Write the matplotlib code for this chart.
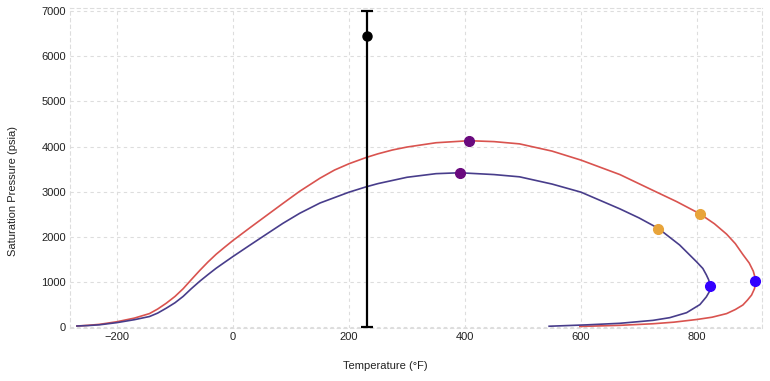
import matplotlib
matplotlib.use("Agg")
import matplotlib.pyplot as plt

plt.rcParams['font.family'] = ['Liberation Sans', 'DejaVu Sans']

# Envelope 1 (red), traced left -> top -> right tip -> back along the bottom
red_t = [-269, -250, -230, -200, -170, -144, -130, -115, -100, -86, -72, -57, -43, -29, -14,
         0, 29, 58, 86, 115, 150, 175, 200, 230, 250, 275, 300, 350, 407, 450, 494, 550,
         600, 667, 724, 765, 805, 830, 851, 866, 879, 890, 897, 900, 901, 899, 894,
         887, 879, 866, 851, 826, 800, 760, 724, 667, 598]
red_p = [25, 40, 62, 120, 200, 300, 400, 530, 680, 850, 1050, 1260, 1445, 1615, 1775,
         1920, 2200, 2475, 2740, 3010, 3300, 3480, 3620, 3760, 3840, 3925, 3990, 4085, 4130, 4110, 4060, 3900,
         3700, 3380, 3030, 2780, 2510, 2290, 2060, 1850, 1610, 1420, 1240, 1100, 980, 850, 710,
         600, 490, 390, 300, 220, 170, 110, 75, 40, 15]

# Envelope 2 (dark blue)
blue_t = [-269, -250, -230, -200, -170, -144, -130, -115, -100, -86, -72, -57, -43, -29, -14,
          0, 29, 58, 86, 115, 150, 200, 230, 250, 300, 350, 391, 450, 494, 550,
          600, 667, 700, 733, 770, 799, 810, 816, 820, 823, 821, 816, 805, 782, 753,
          724, 667, 609, 545]
blue_p = [25, 35, 52, 100, 165, 235, 310, 420, 540, 680, 850, 1020, 1165, 1305, 1440,
          1565, 1815, 2062, 2299, 2522, 2750, 2990, 3110, 3180, 3320, 3400, 3420, 3380, 3330, 3170,
          2990, 2620, 2420, 2190, 1820, 1450, 1300, 1160, 1050, 900, 780, 670, 500, 320, 210,
          150, 85, 50, 20]

# marked points
crit_t = [407, 391]
crit_p = [4130, 3420]
mid_t = [805, 733]
mid_p = [2510, 2180]
tip_t = [900, 822]
tip_p = [1030, 920]

# measured point with range
meas_t = [231]
meas_p = [6460]
meas_lo = [0]
meas_hi = [7000]

x_ticks = [-200, 0, 200, 400, 600, 800]
y_ticks = [0, 1000, 2000, 3000, 4000, 5000, 6000, 7000]

fig = plt.figure(figsize=(7.7, 3.81), dpi=100)
ax = fig.add_axes([0.0909, 0.139, 0.8987, 0.840])

ax.plot(red_t, red_p, color='#d9534f', lw=1.2, zorder=3)
ax.plot(blue_t, blue_p, color='#483d8b', lw=1.2, zorder=3)

ax.plot(crit_t, crit_p, 'o', color='#6a0a7e', ms=7, zorder=4)
ax.plot(mid_t, mid_p, 'o', color='#e8a43a', ms=7, zorder=4)
ax.plot(tip_t, tip_p, 'o', color='#3300ff', ms=7, zorder=4)

yerr = [[meas_p[0] - meas_lo[0]], [meas_hi[0] - meas_p[0]]]
ax.errorbar(meas_t, meas_p, yerr=yerr, fmt='o', color='black', ms=6.5,
            elinewidth=1.6, capsize=4.5, capthick=1.6, zorder=5)

ax.set_xlim(-281, 912)
ax.set_ylim(-20, 7070)
ax.set_xticks(x_ticks)
ax.set_yticks(y_ticks)
ax.tick_params(length=0, labelsize=8, colors='#222222', pad=3)
ax.grid(True, color='#dddddd', linestyle=(0, (3, 3)), lw=0.8)
ax.set_axisbelow(True)
for s in ax.spines.values():
    s.set_color('#dddddd')
    s.set_linestyle((0, (3, 3)))
    s.set_linewidth(0.8)

fig.text(0.5, 0.04, 'Temperature (°F)', ha='center', va='center', fontsize=8, color='#222222')
fig.text(0.017, 0.5, 'Saturation Pressure (psia)', ha='center', va='center',
         rotation=90, fontsize=8, color='#222222')

fig.savefig('out.png', dpi=100)
